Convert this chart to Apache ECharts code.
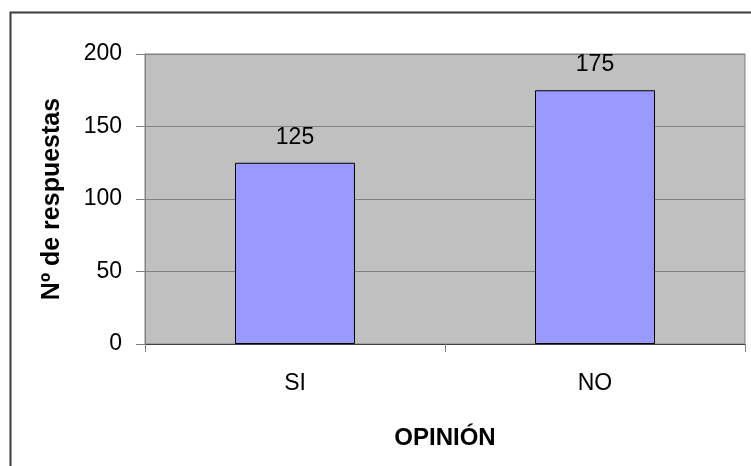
<!DOCTYPE html>
<html lang="es">
<head>
    <meta charset="UTF-8">
    <title>Opinión</title>
    <script src="https://cdn.jsdelivr.net/npm/echarts@6.0.0/dist/echarts.min.js"></script>
</head>
<body style="margin:0;background:#fff;">
<div id="chart" style="width:751px;height:466px;"></div>
<script type="text/javascript">
    var categories = ['SI', 'NO'];
    var respuestas = [125, 175];
    var yTicks = [0, 50, 100, 150, 200];

    var chart = echarts.init(document.getElementById('chart'));
    var font = '"Liberation Sans", Arial, sans-serif';

    var option = {
        animation: false,
        backgroundColor: '#fff',
        textStyle: {fontFamily: font},
        graphic: [{
            type: 'rect',
            left: 8, top: 10,
            shape: {width: 800, height: 520},
            style: {fill: 'none', stroke: '#3a3a3a', lineWidth: 2},
            z: 100
        }],
        grid: {
            left: 145, right: 6, top: 54, bottom: 122,
            show: true,
            backgroundColor: '#c0c0c0',
            borderColor: '#808080',
            borderWidth: 1
        },
        xAxis: {
            type: 'category',
            data: categories,
            name: 'OPINIÓN',
            nameLocation: 'middle',
            nameGap: 82,
            nameTextStyle: {fontSize: 24, fontWeight: 'bold', color: '#000', fontFamily: font},
            axisLine: {lineStyle: {color: '#404040', width: 1}},
            axisTick: {show: true, length: 8, lineStyle: {color: '#808080'}},
            axisLabel: {fontSize: 23, color: '#000', margin: 28, fontFamily: font}
        },
        yAxis: {
            type: 'value',
            min: yTicks[0],
            max: yTicks[yTicks.length - 1],
            interval: 50,
            name: 'Nº de respuestas',
            nameLocation: 'middle',
            nameGap: 80,
            nameRotate: 90,
            nameTextStyle: {fontSize: 25, fontWeight: 'bold', color: '#000', fontFamily: font},
            axisLine: {show: true, lineStyle: {color: '#808080'}},
            axisTick: {show: true, length: 9, lineStyle: {color: '#808080'}},
            axisLabel: {fontSize: 23, color: '#000', margin: 23, fontFamily: font},
            splitLine: {lineStyle: {color: '#808080', width: 1}}
        },
        series: [{
            type: 'bar',
            data: respuestas,
            barWidth: '40%',
            itemStyle: {color: '#9999ff', borderColor: '#000', borderWidth: 1},
            label: {
                show: true,
                position: 'top',
                distance: 14,
                fontSize: 23,
                color: '#000',
                fontFamily: font
            }
        }]
    };
    chart.setOption(option);
</script>
</body>
</html>
